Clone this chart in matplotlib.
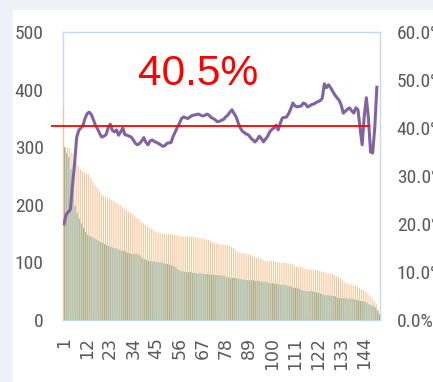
import numpy as np
import matplotlib
matplotlib.use("Agg")
import matplotlib.pyplot as plt
from matplotlib.patches import Rectangle
from matplotlib.ticker import PercentFormatter

# counts per item, sorted by the larger series
orange = [
    370, 300, 299, 298, 290, 280, 272, 268, 262, 258,
    256, 255, 253, 246, 240, 234, 230, 224, 220, 216,
    214, 212, 210, 208, 206, 204, 201, 199, 196, 193,
    191, 188, 186, 183, 180, 177, 175, 170, 168, 165,
    162, 160, 158, 155, 153, 152, 151, 150, 150, 149,
    149, 149, 148, 148, 147, 146, 146, 145, 145, 145,
    145, 144, 144, 144, 143, 143, 142, 141, 140, 139,
    137, 135, 134, 133, 132, 131, 131, 130, 130, 129,
    127, 125, 121, 118, 117, 116, 116, 115, 114, 113,
    110, 109, 108, 108, 107, 104, 103, 102, 102, 102,
    102, 101, 101, 100, 99, 99, 99, 98, 98, 97,
    95, 93, 92, 92, 91, 89, 88, 88, 87, 87,
    87, 86, 85, 84, 83, 82, 81, 81, 80, 78,
    76, 74, 72, 68, 65, 63, 62, 62, 61, 60,
    58, 55, 53, 52, 50, 46, 42, 38, 33, 27, 16,
]
teal = [
    300, 290, 283, 262, 225, 198, 186, 176, 168, 160,
    153, 148, 146, 144, 142, 140, 138, 136, 134, 132,
    130, 129, 127, 126, 125, 124, 122, 121, 120, 119,
    117, 116, 115, 115, 115, 114, 112, 108, 106, 104,
    103, 102, 102, 101, 101, 100, 100, 99, 98, 97,
    96, 95, 94, 92, 88, 86, 85, 84, 83, 83,
    83, 82, 82, 81, 81, 81, 80, 80, 80, 79,
    79, 79, 78, 78, 78, 77, 77, 75, 74, 73,
    73, 73, 72, 72, 71, 70, 70, 69, 69, 69,
    69, 68, 68, 67, 67, 66, 66, 65, 64, 64,
    63, 63, 62, 61, 61, 61, 60, 59, 58, 56,
    56, 55, 54, 52, 51, 50, 50, 50, 50, 49,
    48, 47, 46, 44, 43, 43, 43, 42, 42, 41,
    39, 38, 38, 38, 38, 37, 37, 37, 36, 35,
    34, 33, 33, 32, 30, 27, 26, 25, 22, 17, 10,
]
# rolling share, in percent
ratio_pct = [
    20.0, 22.0, 22.5, 23.0, 28.0, 32.5, 38.0, 39.5, 40.0, 40.5,
    42.0, 43.0, 43.3, 42.8, 41.7, 40.5, 39.8, 38.8, 38.1, 38.3,
    38.6, 40.0, 40.8, 39.5, 39.2, 39.6, 38.5, 39.2, 40.0, 38.6,
    38.5, 38.3, 38.1, 37.5, 36.8, 36.5, 36.8, 37.3, 38.0, 37.0,
    36.5, 37.3, 37.5, 37.2, 37.0, 36.8, 36.5, 36.2, 36.3, 36.8,
    36.9, 37.0, 38.3, 39.2, 40.2, 41.0, 42.0, 42.3, 42.1, 42.0,
    42.3, 42.6, 42.7, 42.8, 42.9, 42.7, 42.5, 42.6, 42.9, 42.7,
    42.2, 42.0, 41.7, 41.3, 41.4, 41.6, 41.8, 42.3, 42.7, 43.3,
    43.8, 43.0, 42.3, 41.0, 40.0, 39.3, 39.0, 38.7, 38.5, 37.9,
    37.5, 37.1, 37.6, 38.3, 37.8, 37.1, 37.7, 38.3, 39.2, 39.7,
    40.0, 40.6, 39.6, 41.0, 42.1, 42.2, 42.3, 43.0, 44.0, 45.2,
    44.6, 44.4, 44.5, 44.6, 45.2, 45.0, 44.4, 44.6, 44.9, 45.0,
    45.3, 45.5, 45.7, 46.2, 49.2, 48.4, 49.0, 48.4, 47.6, 46.9,
    46.3, 45.8, 44.8, 43.1, 43.5, 43.9, 44.2, 43.6, 43.1, 44.2,
    43.8, 40.0, 36.5, 42.5, 46.3, 42.0, 35.0, 34.8, 40.0, 48.5,
]
avg_pct = 40.5

y_ticks = [0, 100, 200, 300, 400, 500]
pct_ticks = [0, 0.1, 0.2, 0.3, 0.4, 0.5, 0.6]

n = len(orange)
cats = np.arange(1, n + 1)
x_ticks = cats[::11]

W, H = 433, 382
tick_font = ['Roboto Condensed', 'Liberation Sans Narrow', 'Liberation Sans']
gray = '#595959'
frame = '#c5daf0'

fig = plt.figure(figsize=(W / 100, H / 100), dpi=100, facecolor='#eef1f5')
fig.add_artist(Rectangle((13 / W, 0), 1, 1 - 10 / H, transform=fig.transFigure,
                         facecolor='white', edgecolor='none', zorder=0))

ax = fig.add_axes([63 / W, 62 / H, 317 / W, 288 / H])
# bars are about one pixel wide, so leave them unsnapped for an even blend
ax.bar(cats - 0.25, orange, width=0.5, color='#f6c394', linewidth=0, snap=False)
ax.bar(cats + 0.25, teal, width=0.5, color='#8ab5a5', linewidth=0, snap=False)
ax.set_xlim(0.5, n + 0.5)
ax.set_ylim(0, 500)
ax.set_yticks(y_ticks)
ax.set_xticks(x_ticks)
ax.set_xticklabels([str(c) for c in x_ticks], rotation=90, va='top',
                   fontsize=12.5, color=gray)
ax.tick_params(axis='x', length=0, pad=12)
ax.tick_params(axis='y', length=0, pad=14, labelsize=14, labelcolor=gray)
for lab in ax.get_yticklabels():
    lab.set_family(tick_font)
for sp in ax.spines.values():
    sp.set_color(frame)
    sp.set_linewidth(1)
    sp.set_zorder(0.5)

ax2 = ax.twinx()
ax2.plot(cats[:len(ratio_pct)], np.array(ratio_pct) / 100, color='#8064a2',
         lw=2.2, solid_joinstyle='round', zorder=3)
ax2.axhline(avg_pct / 100, xmin=-0.035, xmax=0.965, color='#ff0000', lw=1.3,
            clip_on=False, zorder=4)
ax2.set_ylim(0, 0.6)
ax2.set_yticks(pct_ticks)
ax2.yaxis.set_major_formatter(PercentFormatter(1.0, decimals=1))
ax2.tick_params(axis='y', length=0, pad=12, labelsize=14, labelcolor=gray)
for lab in ax2.get_yticklabels():
    lab.set_family(tick_font)
for sp in ax2.spines.values():
    sp.set_visible(False)

ax2.text(0.426, 0.816, f'{avg_pct}%', transform=ax2.transAxes, ha='center',
         va='baseline', color='#ff0000', fontsize=30.5, family='Liberation Sans')

fig.savefig('out.png', dpi=100)
